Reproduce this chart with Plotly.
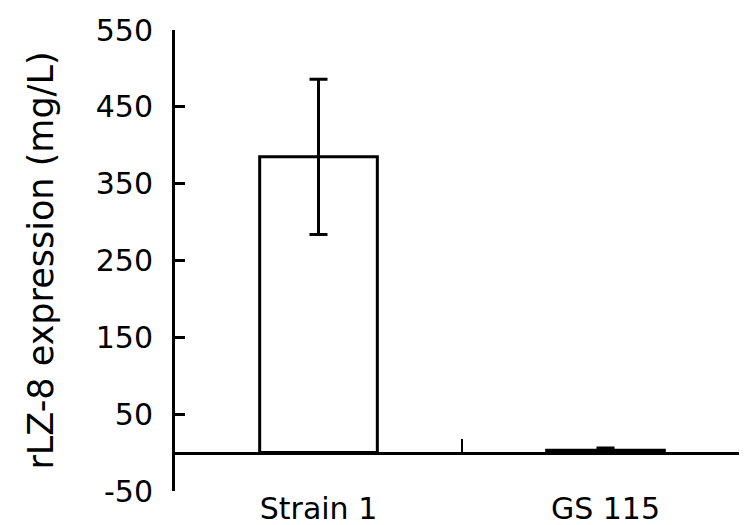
import plotly.graph_objects as go

categories = ["Strain 1", "GS 115"]
expression = [385, 3]
error = [101, 3]
y_ticks = [-50, 50, 150, 250, 350, 450, 550]
y_tick_labels = ["-50", "50", "150", "250", "350", "450", "550"]

FONT = "DejaVu Sans"

fig = go.Figure()
fig.add_trace(go.Bar(
    x=categories, y=expression, width=0.41,
    marker=dict(color="white", line=dict(color="black", width=3)),
    error_y=dict(type="data", array=error, visible=True, color="black", thickness=3, width=9),
    showlegend=False,
))

fig.update_layout(
    width=747, height=525,
    margin=dict(l=167, r=6, t=22, b=42, autoexpand=False),
    paper_bgcolor="white", plot_bgcolor="white",
    font=dict(family=FONT, color="black"),
    xaxis=dict(
        type="category", range=[-0.5, 1.5],
        anchor="free", position=50 / 600, automargin=False,
        showline=True, linecolor="black", linewidth=3,
        ticks="inside", tickson="boundaries", ticklen=13, tickwidth=2, tickcolor="black",
        tickfont=dict(size=30, family=FONT),
        ticklabelstandoff=28,
        showgrid=False, zeroline=False,
    ),
    yaxis=dict(
        range=[-50, 550], tickvals=y_ticks, ticktext=y_tick_labels, automargin=False,
        showline=True, linecolor="black", linewidth=3,
        ticks="inside", ticklen=10, tickwidth=3, tickcolor="black",
        tickfont=dict(size=30, family=FONT),
        ticklabelstandoff=13,
        showgrid=False, zeroline=False,
        title=dict(text="rLZ-8 expression (mg/L)", font=dict(size=35, family=FONT), standoff=32),
    ),
)

fig.write_html("out.html")
